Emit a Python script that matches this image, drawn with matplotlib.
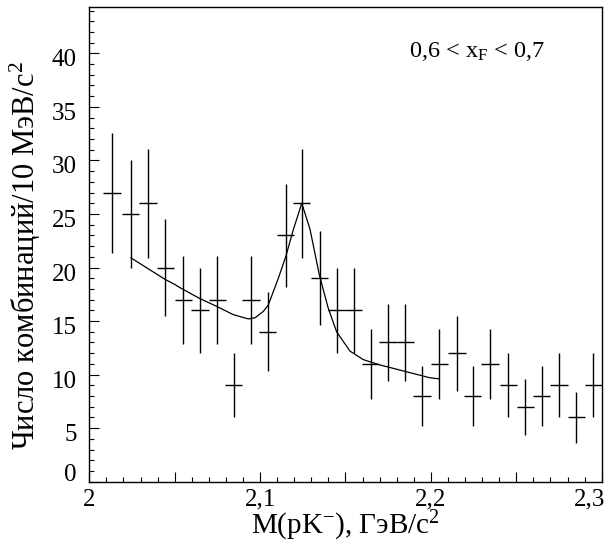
import matplotlib
matplotlib.use('Agg')
import matplotlib.pyplot as plt
from matplotlib.ticker import MultipleLocator, FuncFormatter
from matplotlib.transforms import ScaledTranslation

plt.rcParams['font.family'] = ['Liberation Serif', 'DejaVu Serif']
plt.rcParams['mathtext.fontset'] = 'custom'
plt.rcParams['mathtext.rm'] = 'Liberation Serif'
plt.rcParams['mathtext.it'] = 'Liberation Serif:italic'

# bin centres, counts and errors
mass = [2.0133, 2.0243, 2.0344, 2.0446, 2.0549, 2.0648, 2.0748, 2.0847,
        2.0947, 2.1046, 2.1150, 2.1245, 2.1348, 2.1450, 2.1549, 2.1649,
        2.1749, 2.1849, 2.1948, 2.2050, 2.2153, 2.2246, 2.2346, 2.2452,
        2.2553, 2.2650, 2.2750, 2.2850, 2.2950]
counts = [27, 25, 26, 20, 17, 16, 17, 9, 17, 14, 23, 26, 19, 16, 16, 11,
          13, 13, 8, 11, 12, 8, 11, 9, 7, 8, 9, 6, 9]
errors = [5.6, 5.0, 5.1, 4.5, 4.1, 4.0, 4.1, 3.0, 4.1, 3.7, 4.8, 5.1, 4.4,
          4.0, 4.0, 3.3, 3.6, 3.6, 2.8, 3.3, 3.5, 2.8, 3.3, 3.0, 2.6, 2.8,
          3.0, 2.4, 3.0]
half_bin = 0.005

# fit curve (background + peak)
fit_x = [2.0244, 2.0443, 2.0502, 2.0544, 2.0648, 2.0742, 2.0843, 2.0931,
         2.0970, 2.1019, 2.1048, 2.1107, 2.1150, 2.1194, 2.1244, 2.1292,
         2.1347, 2.1399, 2.1448, 2.1526, 2.1604, 2.1702, 2.1800, 2.1995,
         2.2049]
fit_y = [20.9, 18.9, 18.4, 18.0, 17.1, 16.4, 15.6, 15.2, 15.3, 15.9, 16.5,
         19.0, 21.0, 23.5, 26.0, 23.6, 19.3, 16.2, 14.0, 12.2, 11.4, 10.9,
         10.5, 9.7, 9.6]

fig = plt.figure(figsize=(6.09, 5.42), dpi=100)
ax = fig.add_axes([0.1466, 0.1113, 0.8414, 0.8752])

ax.errorbar(mass, counts, xerr=half_bin, yerr=errors, fmt='none',
            ecolor='black', elinewidth=1.0, capsize=0)
ax.plot(fit_x, fit_y, color='black', lw=0.9)

ax.set_xlim(2.0, 2.3)
ax.set_ylim(0, 44.3)

def xfmt(v, pos):
    if round(v * 100) % 10:
        return ''
    return f'{round(v, 2):g}'.replace('.', ',')

ax.xaxis.set_major_locator(MultipleLocator(0.05))
ax.xaxis.set_minor_locator(MultipleLocator(0.01))
ax.xaxis.set_major_formatter(FuncFormatter(xfmt))
ax.yaxis.set_major_locator(MultipleLocator(5))
ax.yaxis.set_minor_locator(MultipleLocator(1))

ax.tick_params(which='both', direction='in', top=False, right=False,
               labelsize=18, width=0.8)
ax.tick_params(which='major', length=7)
ax.tick_params(which='minor', length=3.5)
ax.tick_params(axis='x', pad=5)
ax.tick_params(axis='y', pad=9)
for s in ax.spines.values():
    s.set_linewidth(1.0)

ax.set_xlabel(r'M(pK$^{-}$), ГэВ/c$^{2}$', fontsize=21, va='center')
ax.xaxis.set_label_coords(0.5, -0.093)
ax.set_ylabel(r'Число комбинаций/10 МэВ/c$^{2}$', fontsize=22, va='center')
ax.yaxis.set_label_coords(-0.125, 0.476)

ax.text(0.757, 0.895, r'0,6 < x$_{\mathrm{F}}$ < 0,7', transform=ax.transAxes,
        ha='center', va='baseline', fontsize=17.5)

# ROOT-style label placement: y labels sit a bit below their ticks,
# the "0" is lifted, the last x label is kept inside the frame
fig.canvas.draw()
for lbl in ax.get_yticklabels():
    dy = 9 if lbl.get_text() == '0' else -4.5
    lbl.set_transform(lbl.get_transform() +
                      ScaledTranslation(0, dy / 100, fig.dpi_scale_trans))
for lbl in ax.get_xticklabels():
    if lbl.get_text() == '2,3':
        lbl.set_horizontalalignment('right')
        lbl.set_transform(lbl.get_transform() +
                          ScaledTranslation(4 / 100, 0, fig.dpi_scale_trans))

fig.savefig('out.png', dpi=100)
